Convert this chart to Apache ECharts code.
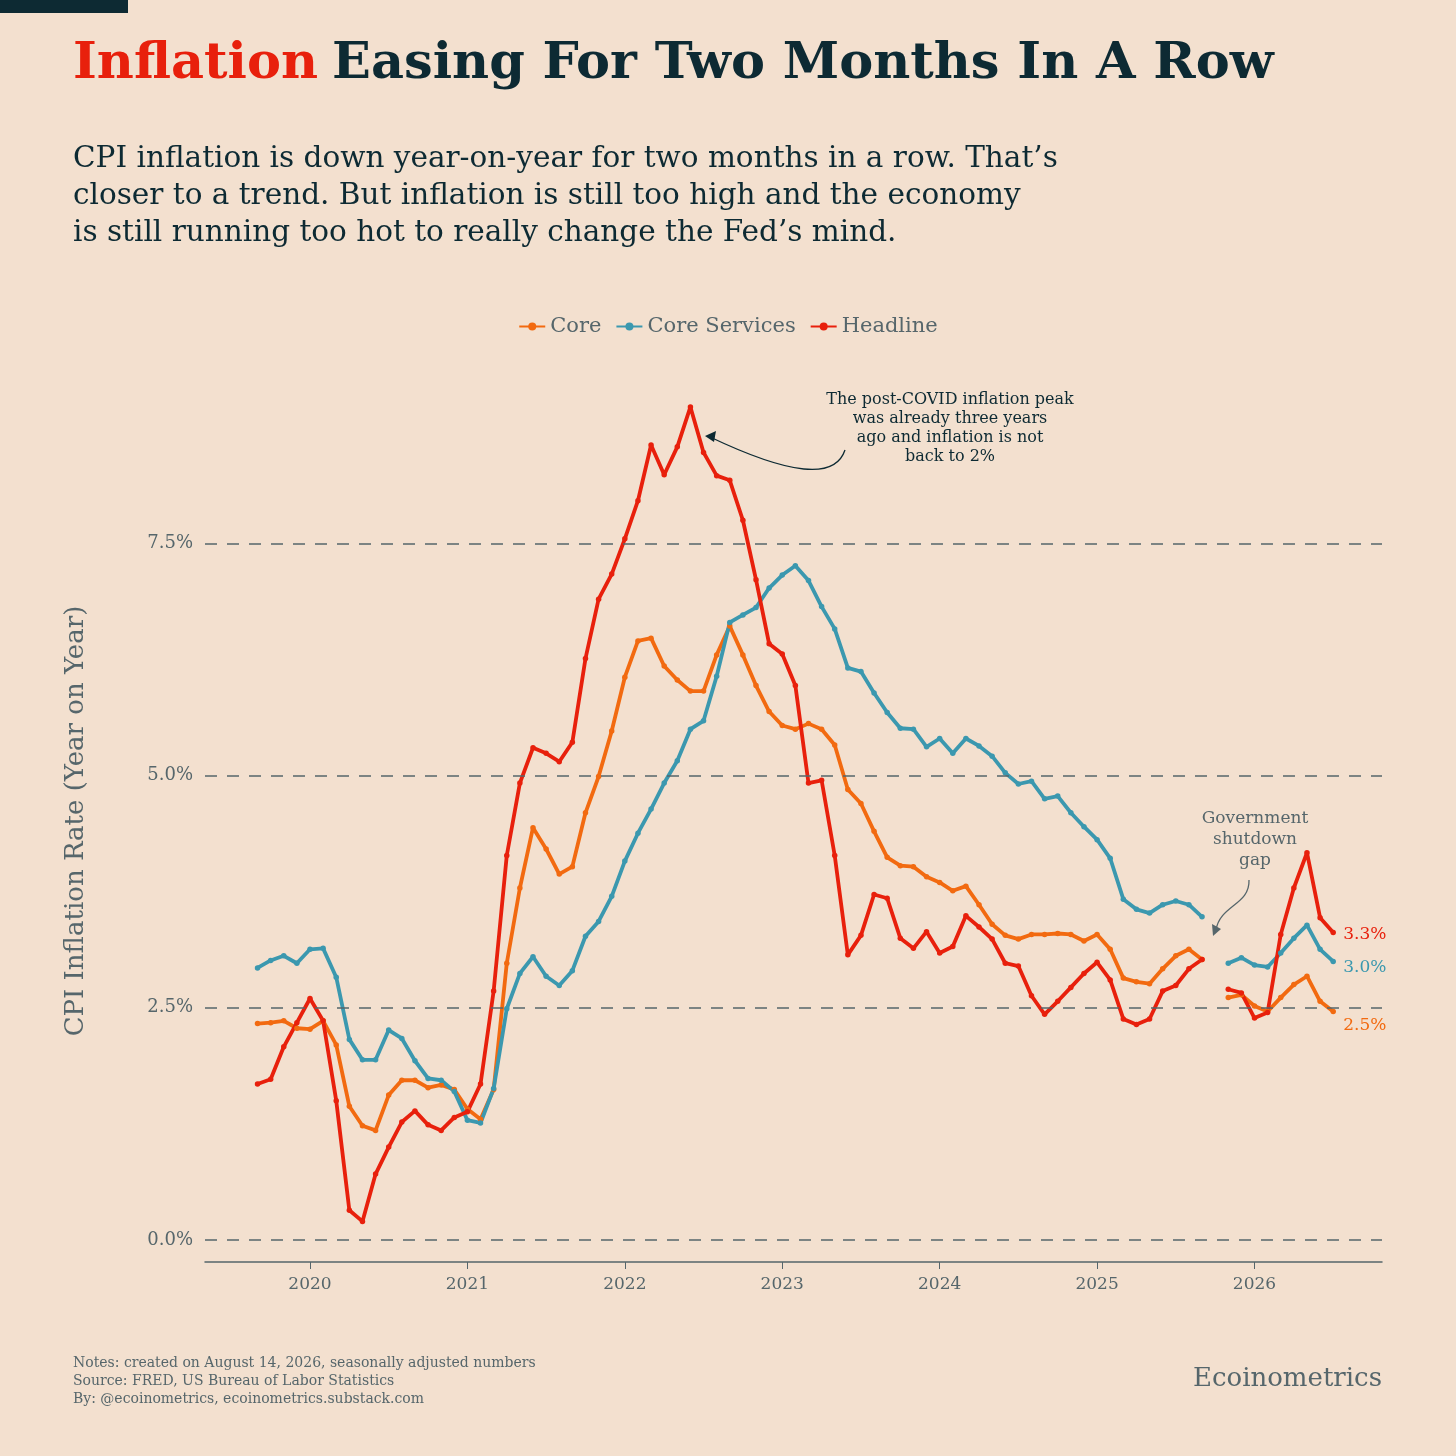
<!DOCTYPE html>
<html>
<head>
<meta charset="utf-8">
<script src="https://cdn.jsdelivr.net/npm/echarts@6/dist/echarts.min.js"></script>
<style>
html,body{margin:0;padding:0;background:#f3e0cf;}
#main{width:1456px;height:1456px;}
</style>
</head>
<body>
<div id="main"></div>
<script>
// monthly data, Sep 2019 .. Jul 2026 (Oct 2025 missing: shutdown)
var startYear = 2019, startMonth = 9;
var years = [2020, 2021, 2022, 2023, 2024, 2025, 2026];
var yTicks = [0, 2.5, 5, 7.5];

var core = [2.33,2.34,2.36,2.28,2.27,2.36,2.10,1.44,1.23,1.18,1.56,1.72,1.72,1.64,1.67,1.62,1.41,1.30,1.62,2.98,
  3.79,4.44,4.21,3.94,4.02,4.60,4.99,5.48,6.06,6.45,6.48,6.18,6.03,5.91,5.91,6.30,6.61,6.30,5.97,5.69,
  5.54,5.50,5.56,5.50,5.33,4.85,4.70,4.40,4.12,4.03,4.02,3.91,3.85,3.76,3.81,3.61,3.40,3.28,3.24,3.29,
  3.29,3.30,3.29,3.22,3.29,3.13,2.82,2.78,2.76,2.92,3.06,3.13,3.02,null,2.61,2.64,2.52,2.46,2.61,2.75,
  2.84,2.57,2.46];
var coreServices = [2.93,3.01,3.06,2.98,3.13,3.14,2.83,2.16,1.94,1.94,2.26,2.17,1.93,1.74,1.72,1.60,1.29,1.26,1.63,2.49,
  2.87,3.05,2.84,2.74,2.90,3.27,3.43,3.70,4.08,4.38,4.64,4.92,5.16,5.50,5.59,6.07,6.65,6.73,6.81,7.02,
  7.16,7.26,7.10,6.82,6.58,6.16,6.12,5.89,5.68,5.51,5.50,5.31,5.40,5.24,5.40,5.32,5.21,5.03,4.91,4.94,
  4.75,4.78,4.60,4.45,4.31,4.11,3.67,3.56,3.52,3.61,3.65,3.61,3.48,null,2.98,3.04,2.96,2.94,3.09,3.25,
  3.39,3.13,3.00];
var headline = [1.68,1.73,2.08,2.34,2.60,2.36,1.50,0.32,0.20,0.71,1.00,1.27,1.39,1.24,1.18,1.32,1.38,1.68,2.68,4.14,
  4.92,5.30,5.24,5.15,5.36,6.26,6.90,7.17,7.55,7.96,8.56,8.24,8.54,8.97,8.48,8.23,8.18,7.75,7.11,6.42,
  6.31,5.97,4.92,4.95,4.14,3.07,3.28,3.72,3.68,3.25,3.14,3.32,3.09,3.16,3.49,3.37,3.24,2.98,2.95,2.63,
  2.43,2.57,2.72,2.87,2.99,2.80,2.38,2.32,2.38,2.68,2.74,2.92,3.02,null,2.70,2.66,2.39,2.45,3.29,3.79,
  4.17,3.47,3.31];

var C_CORE = '#f26a10', C_SERV = '#3b98af', C_HEAD = '#e8200c';
var DARK = '#0d2a33', GREY = '#56666b';
var SERIF = 'DejaVu Serif';

function toSeries(vals) {
  return vals.map(function (v, i) {
    var m = startMonth - 1 + i;
    return [startYear + Math.floor(m / 12) + (m % 12) / 12, v];
  });
}

function lineSeries(name, vals, color, lblOffset) {
  return {
    name: name, type: 'line', data: toSeries(vals), connectNulls: false, z: 3,
    symbol: 'circle', symbolSize: 5.5, showAllSymbol: true,
    lineStyle: {color: color, width: 3.8}, itemStyle: {color: color},
    emphasis: {disabled: true},
    endLabel: {
      show: true, color: color, fontFamily: SERIF, fontSize: 17, offset: lblOffset,
      formatter: function (p) { return p.value[1].toFixed(1) + '%'; }
    }
  };
}

// dashed reference lines at the y ticks
var gridLines = {
  name: 'grid', type: 'line', data: [], z: 1, silent: true,
  markLine: {
    symbol: 'none', silent: true, label: {show: false},
    lineStyle: {type: [12, 10], color: GREY, width: 1.5},
    data: yTicks.map(function (v) { return {yAxis: v}; })
  }
};

var chart = echarts.init(document.getElementById('main'));
chart.setOption({
  backgroundColor: '#f3e0cf',
  animation: false,
  textStyle: {fontFamily: SERIF},
  legend: {
    top: 311, left: 'center', itemWidth: 26, itemHeight: 10, itemGap: 14,
    textStyle: {fontFamily: SERIF, fontSize: 21, color: GREY},
    data: ['Core', 'Core Services', 'Headline']
  },
  grid: {left: 205, right: 74, top: 380, bottom: 194},
  xAxis: {
    type: 'value', min: 2019.333, max: 2026.81,
    axisLine: {show: true, onZero: false, lineStyle: {color: GREY, width: 1.5}},
    axisTick: {show: true, customValues: years, length: 7, lineStyle: {color: GREY}},
    axisLabel: {customValues: years, fontSize: 17, color: GREY, fontFamily: SERIF, margin: 14,
      formatter: function (v) { return String(Math.round(v)); }},
    splitLine: {show: false}
  },
  yAxis: {
    type: 'value', min: -0.237, max: 9.26,
    name: 'CPI Inflation Rate (Year on Year)', nameLocation: 'middle', nameGap: 116,
    nameTextStyle: {fontFamily: SERIF, fontSize: 26, color: GREY},
    axisLine: {show: false}, axisTick: {show: false},
    axisLabel: {customValues: yTicks, fontSize: 18, color: GREY, fontFamily: SERIF, margin: 12,
      formatter: function (v) { return v.toFixed(1) + '%'; }},
    splitLine: {show: false}
  },
  series: [
    gridLines,
    lineSeries('Core', core, C_CORE, [2, 14]),
    lineSeries('Core Services', coreServices, C_SERV, [2, 6]),
    lineSeries('Headline', headline, C_HEAD, [2, 2])
  ],
  graphic: [
    {type: 'rect', left: 0, top: 0, shape: {width: 128, height: 13}, style: {fill: DARK}},
    {type: 'text', left: 73, top: 39, style: {
      rich: {r: {fill: C_HEAD, fontSize: 51, fontWeight: 'bold', fontFamily: SERIF},
             d: {fill: DARK, fontSize: 51, fontWeight: 'bold', fontFamily: SERIF},
             s: {fontSize: 51, width: 14}},
      text: '{r|Inflation}{s| }{d|Easing For Two Months In A Row}'}},
    {type: 'text', left: 73, top: 141, style: {
      text: 'CPI inflation is down year-on-year for two months in a row. That\u2019s\ncloser to a trend. But inflation is still too high and the economy\nis still running too hot to really change the Fed\u2019s mind.',
      fill: DARK, fontSize: 29.5, lineHeight: 37, fontFamily: SERIF}},
    {type: 'text', x: 950, y: 390, style: {
      text: 'The post-COVID inflation peak\nwas already three years\nago and inflation is not\nback to 2%',
      fill: DARK, fontSize: 16, lineHeight: 19, align: 'center', fontFamily: SERIF}},
    {type: 'bezierCurve', shape: {x1: 845, y1: 450, cpx1: 835, cpy1: 480, x2: 710, y2: 437, cpx2: 790, cpy2: 475},
      style: {stroke: DARK, lineWidth: 1.3, fill: null}},
    {type: 'polygon', shape: {points: [[705, 436], [716, 431], [714, 442]]}, style: {fill: DARK}},
    {type: 'text', x: 1255, y: 808, style: {
      text: 'Government\nshutdown\ngap', fill: GREY, fontSize: 17, lineHeight: 21, align: 'center', fontFamily: SERIF}},
    {type: 'bezierCurve', shape: {x1: 1249, y1: 880, cpx1: 1250, cpy1: 905, x2: 1216, y2: 930, cpx2: 1220, cpy2: 905},
      style: {stroke: GREY, lineWidth: 1.3, fill: null}},
    {type: 'polygon', shape: {points: [[1213, 936], [1212, 924], [1221, 929]]}, style: {fill: GREY}},
    {type: 'text', left: 73, top: 1354, style: {
      text: 'Notes: created on August 14, 2026, seasonally adjusted numbers\nSource: FRED, US Bureau of Labor Statistics\nBy: @ecoinometrics, ecoinometrics.substack.com',
      fill: GREY, fontSize: 14, lineHeight: 18, fontFamily: SERIF}},
    {type: 'text', right: 74, top: 1366, style: {text: 'Ecoinometrics', fill: GREY, fontSize: 26, fontFamily: SERIF}}
  ]
});
</script>
</body>
</html>
